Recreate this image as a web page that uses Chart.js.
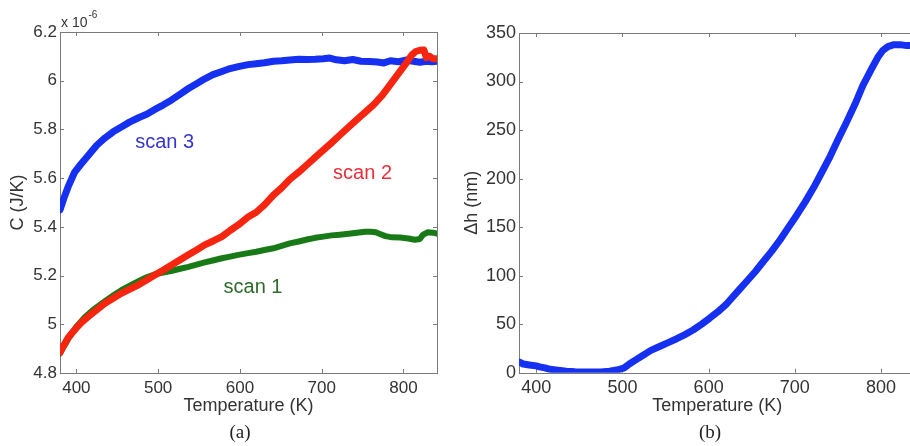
<!DOCTYPE html>
<html>
<head>
<meta charset="utf-8">
<script src="https://cdn.jsdelivr.net/npm/chart.js@4.4.1/dist/chart.umd.min.js"></script>
<style>
  html, body { margin: 0; padding: 0; background: #ffffff; overflow: hidden; width: 910px; height: 446px; }
  .panel { position: absolute; top: 0; }
  #panelA { left: 0; width: 455px; height: 446px; }
  #panelB { left: 455px; width: 475px; height: 446px; }
</style>
</head>
<body>
<div class="panel" id="panelA"><canvas id="chartA" width="455" height="446"></canvas></div>
<div class="panel" id="panelB"><canvas id="chartB" width="475" height="446"></canvas></div>
<script>
// ---- (a) heat capacity, C in units of 1e-6 J/K ----
const tempScan1 = [380,384,390,400,410,420,435,445,455,466,476,486,496,506,517,527,537,547,557,568,578,588,598,610,620,630,641,651,661,672,682,692,702,712,722,733,743,753,760,766,772,778,786,796,806,814,820,824,830,836,841];
const scan1     = [4.88,4.905,4.94,4.99,5.028,5.058,5.095,5.118,5.14,5.16,5.177,5.193,5.205,5.212,5.22,5.228,5.236,5.245,5.254,5.263,5.271,5.278,5.285,5.292,5.298,5.305,5.312,5.322,5.332,5.34,5.348,5.355,5.36,5.365,5.368,5.372,5.376,5.38,5.38,5.378,5.37,5.362,5.357,5.356,5.352,5.347,5.35,5.368,5.378,5.376,5.372];

const tempScan2 = [380,384,390,395,400,407,415,425,435,445,455,466,476,486,496,506,517,527,537,547,557,568,578,588,598,610,620,630,641,651,661,672,682,692,702,712,722,733,743,753,763,774,784,794,804,810,815,820,825,828,832,836,841];
const scan2     = [4.885,4.91,4.945,4.965,4.985,5.01,5.033,5.06,5.086,5.107,5.127,5.145,5.162,5.182,5.202,5.222,5.244,5.265,5.285,5.305,5.326,5.343,5.36,5.385,5.408,5.44,5.46,5.49,5.53,5.56,5.595,5.625,5.655,5.685,5.715,5.745,5.776,5.81,5.84,5.87,5.9,5.94,5.985,6.03,6.075,6.105,6.12,6.125,6.126,6.095,6.1,6.09,6.09];

const tempScan3 = [380,385,390,398,405,415,425,435,445,455,465,476,486,496,506,516,527,537,547,557,567,578,588,598,610,620,630,641,651,661,672,682,692,702,710,718,728,738,748,758,768,776,784,794,804,812,820,828,835,841];
const scan3     = [5.47,5.52,5.565,5.625,5.655,5.695,5.735,5.765,5.79,5.81,5.83,5.848,5.862,5.882,5.9,5.92,5.945,5.968,5.988,6.008,6.025,6.038,6.05,6.058,6.066,6.07,6.074,6.08,6.082,6.085,6.088,6.087,6.088,6.09,6.093,6.086,6.082,6.087,6.08,6.079,6.077,6.073,6.082,6.078,6.085,6.08,6.076,6.08,6.078,6.08];

const xTicks      = [400, 500, 600, 700, 800];
const xTickLabels = ['400', '500', '600', '700', '800'];
const cTicks      = [4.8, 5.0, 5.2, 5.4, 5.6, 5.8, 6.0, 6.2];
const cTickLabels = ['4.8', '5', '5.2', '5.4', '5.6', '5.8', '6', '6.2'];
const scanNames   = ['scan 1', 'scan 2', 'scan 3'];

// ---- (b) height change ----
const tempDh = [380,385,392,400,404,410,416,425,435,445,460,475,485,495,502,508,515,524,533,543,553,563,572,582,592,601,611,621,634,644,654,663,673,683,692,702,712,722,731,741,750,760,770,779,789,797,802,808,815,822,830,840];
const dh     = [11,9,8,7,6,5,3.5,2.5,1.5,1,0.8,0.8,1.5,3,5,9,13,18,23,27,31,35,39,44,50,56,63,71,84,94,104,114,125,137,149,162,176,191,206,223,240,258,277,296,313,326,332,336,338,338,337,337];
const dhTicks      = [0, 50, 100, 150, 200, 250, 300, 350];
const dhTickLabels = ['0', '50', '100', '150', '200', '250', '300', '350'];

const pairs = (xs, ys) => xs.map((x, i) => ({ x, y: ys[i] }));

const SANS = '"Liberation Sans", Arial, sans-serif';
const SERIF = '"Liberation Serif", "Times New Roman", serif';
const AXIS_GREY = '#7a7a7a';
const TEXT = '#333333';

// box around the plot area with short inward ticks on all four sides
const boxTicks = {
  id: 'boxTicks',
  beforeDatasetsDraw(chart) {
    const { ctx, chartArea: a, scales: { x, y } } = chart;
    const len = 4;
    ctx.save();
    ctx.strokeStyle = AXIS_GREY;
    ctx.lineWidth = 1;
    ctx.strokeRect(Math.round(a.left) + 0.5, Math.round(a.top) + 0.5,
                   Math.round(a.right - a.left), Math.round(a.bottom - a.top));
    ctx.beginPath();
    x.ticks.forEach(t => {
      const px = Math.round(x.getPixelForValue(t.value)) + 0.5;
      ctx.moveTo(px, a.bottom); ctx.lineTo(px, a.bottom - len);
      ctx.moveTo(px, a.top); ctx.lineTo(px, a.top + len);
    });
    y.ticks.forEach(t => {
      const py = Math.round(y.getPixelForValue(t.value)) + 0.5;
      ctx.moveTo(a.left, py); ctx.lineTo(a.left + len, py);
      ctx.moveTo(a.right, py); ctx.lineTo(a.right - len, py);
    });
    ctx.stroke();
    ctx.restore();
  }
};

// text labels placed in data coordinates, plus the panel caption
const panelText = {
  id: 'panelText',
  afterDraw(chart, args, opts) {
    const { ctx, scales: { x, y } } = chart;
    ctx.save();
    ctx.textAlign = 'center';
    ctx.textBaseline = 'middle';
    (opts.notes || []).forEach(n => {
      ctx.font = '20px ' + SANS;
      ctx.fillStyle = n.color;
      ctx.fillText(n.text, x.getPixelForValue(n.x), y.getPixelForValue(n.y));
    });
    if (opts.caption) {
      ctx.font = '19px ' + SERIF;
      ctx.fillStyle = '#222';
      ctx.fillText(opts.caption.text, opts.caption.cx, opts.caption.cy);
    }
    if (opts.exponent) {
      const a = chart.chartArea;
      ctx.textAlign = 'left';
      ctx.textBaseline = 'alphabetic';
      ctx.fillStyle = TEXT;
      ctx.font = '14px ' + SANS;
      const base = 'x 10';
      ctx.fillText(base, a.left + 1, a.top - 5);
      const w = ctx.measureText(base).width;
      ctx.font = '10px ' + SANS;
      ctx.fillText(opts.exponent, a.left + 2 + w, a.top - 14);
    }
    ctx.restore();
  }
};

function axisX(min, max, height, tickSize) {
  return {
    type: 'linear', min, max,
    afterFit(s) { s.height = height; },
    afterBuildTicks(s) { s.ticks = xTicks.map(v => ({ value: v })); },
    grid: { display: false, drawTicks: false },
    border: { display: false },
    ticks: {
      padding: 5, color: TEXT, font: { family: SANS, size: tickSize },
      maxRotation: 0,
      callback: (v, i) => xTickLabels[i]
    },
    title: {
      display: true, text: 'Temperature (K)', color: TEXT,
      font: { family: SANS, size: 18 }, padding: { top: 0, bottom: 29 }
    }
  };
}

function axisY(min, max, width, values, labels, title, titlePad, tickSize) {
  return {
    type: 'linear', min, max,
    afterFit(s) { s.width = width; },
    afterBuildTicks(s) { s.ticks = values.map(v => ({ value: v })); },
    grid: { display: false, drawTicks: false },
    border: { display: false },
    ticks: {
      padding: 3, color: TEXT, font: { family: SANS, size: tickSize },
      callback: (v, i) => labels[i]
    },
    title: {
      display: true, text: title, color: TEXT,
      font: { family: SANS, size: 18 }, padding: { top: titlePad, bottom: 0 }
    }
  };
}

const common = {
  responsive: false,
  animation: false,
  events: [],
  elements: { point: { radius: 0 }, line: { tension: 0, borderCapStyle: 'round', borderJoinStyle: 'round' } },
};

new Chart(document.getElementById('chartA'), {
  type: 'line',
  data: {
    datasets: [
      { label: scanNames[0], data: pairs(tempScan1, scan1), borderColor: '#177a17', borderWidth: 6, order: 2 },
      { label: scanNames[1], data: pairs(tempScan2, scan2), borderColor: '#f5250f', borderWidth: 7, order: 0 },
      { label: scanNames[2], data: pairs(tempScan3, scan3), borderColor: '#1530f0', borderWidth: 7, order: 1 }
    ]
  },
  options: Object.assign({}, common, {
    layout: { padding: { top: 32, right: 18, bottom: 0, left: 0 } },
    scales: {
      x: axisX(380, 841, 73, 17),
      y: axisY(4.8, 6.2, 60, cTicks, cTickLabels, 'C (J/K)', 7, 17)
    },
    plugins: {
      legend: { display: false },
      tooltip: { enabled: false },
      panelText: {
        notes: [
          { text: scanNames[2], x: 508, y: 5.745, color: '#3535d0' },
          { text: scanNames[1], x: 750, y: 5.62, color: '#e8303a' },
          { text: scanNames[0], x: 616, y: 5.15, color: '#2d6b2d' }
        ],
        caption: { text: '(a)', cx: 240, cy: 433 },
        exponent: '-6'
      }
    }
  }),
  plugins: [boxTicks, panelText]
});

new Chart(document.getElementById('chartB'), {
  type: 'line',
  data: {
    datasets: [
      { label: 'Δh', data: pairs(tempDh, dh), borderColor: '#1530f0', borderWidth: 7 }
    ]
  },
  options: Object.assign({}, common, {
    layout: { padding: { top: 33, right: 14.5, bottom: 0, left: 0 } },
    scales: {
      x: axisX(380, 840, 73.3, 18),
      y: axisY(0, 350, 64, dhTicks, dhTickLabels, 'Δh (nm)', 6, 18)
    },
    plugins: {
      legend: { display: false },
      tooltip: { enabled: false },
      panelText: {
        caption: { text: '(b)', cx: 255, cy: 433 }
      }
    }
  }),
  plugins: [boxTicks, panelText]
});
</script>
</body>
</html>
